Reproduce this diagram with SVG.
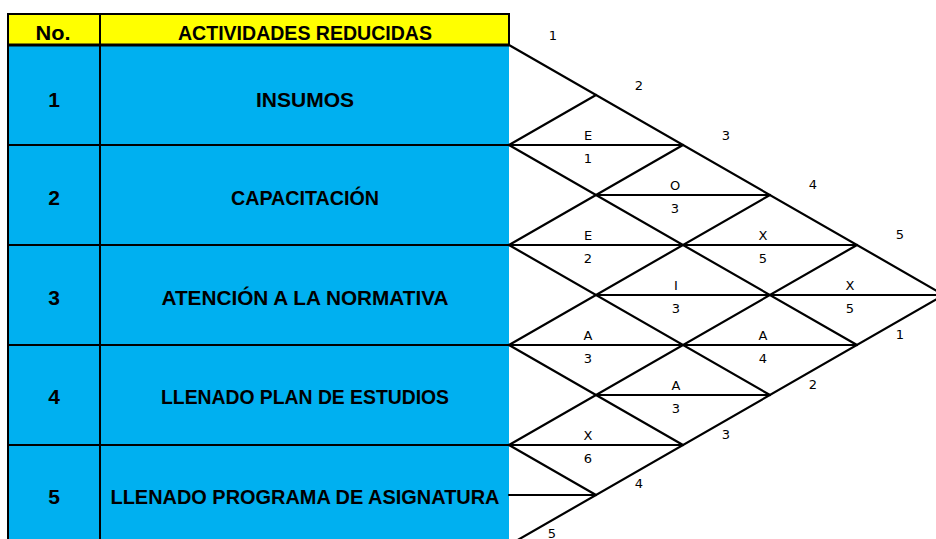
<svg xmlns="http://www.w3.org/2000/svg" width="936" height="539" viewBox="0 0 936 539">
<style>
.hd{fill:#FFFF00;stroke:#000;stroke-width:2}
.row{fill:#00B0F0}
.b{stroke:#000;stroke-width:2;fill:none}
.t{font-family:"Liberation Sans",Arial,sans-serif;font-weight:bold;font-size:21px;fill:#000;text-anchor:middle}
.s{font-family:"DejaVu Sans",Verdana,sans-serif;font-size:13px;fill:#000;text-anchor:middle}
.ln{stroke:#000;stroke-width:2.2;fill:none;stroke-linecap:round}
</style>
<rect width="936" height="539" fill="#fff"/>
<g id="header">
<rect class="hd" x="8" y="14" width="501" height="31"/>
<line class="b" x1="100" y1="14" x2="100" y2="45"/>
<text class="t" x="53" y="40" textLength="35" lengthAdjust="spacingAndGlyphs">No.</text>
<text class="t" x="305" y="40" textLength="254" lengthAdjust="spacingAndGlyphs">ACTIVIDADES REDUCIDAS</text>
</g>
<g id="row1">
<rect class="row" x="8" y="45" width="501" height="100"/>
<text class="t" x="54" y="107">1</text>
<text class="t" x="305" y="107" textLength="98" lengthAdjust="spacingAndGlyphs">INSUMOS</text>
</g>
<g id="row2">
<rect class="row" x="8" y="145" width="501" height="100"/>
<text class="t" x="54" y="205">2</text>
<text class="t" x="305" y="205" textLength="148" lengthAdjust="spacingAndGlyphs">CAPACITACIÓN</text>
</g>
<g id="row3">
<rect class="row" x="8" y="245" width="501" height="100"/>
<text class="t" x="54" y="305">3</text>
<text class="t" x="305" y="305" textLength="287" lengthAdjust="spacingAndGlyphs">ATENCIÓN A LA NORMATIVA</text>
</g>
<g id="row4">
<rect class="row" x="8" y="345" width="501" height="100"/>
<text class="t" x="54" y="404">4</text>
<text class="t" x="305" y="404" textLength="288" lengthAdjust="spacingAndGlyphs">LLENADO PLAN DE ESTUDIOS</text>
</g>
<g id="row5">
<rect class="row" x="8" y="445" width="501" height="94"/>
<text class="t" x="54" y="504">5</text>
<text class="t" x="305" y="504" textLength="389" lengthAdjust="spacingAndGlyphs">LLENADO PROGRAMA DE ASIGNATURA</text>
</g>
<g id="table-lines">
<line class="b" x1="8" y1="14" x2="8" y2="539"/>
<line class="b" x1="100" y1="45" x2="100" y2="539"/>
<line x1="8" y1="45" x2="509" y2="45" stroke="#000" stroke-width="3"/>
<line class="b" x1="8" y1="145" x2="509" y2="145"/>
<line class="b" x1="8" y1="245" x2="509" y2="245"/>
<line class="b" x1="8" y1="345" x2="509" y2="345"/>
<line class="b" x1="8" y1="445" x2="509" y2="445"/>
</g>
<g id="connectors">
<line class="ln" x1="509" y1="145" x2="683" y2="145"/>
<line class="ln" x1="596" y1="195" x2="770" y2="195"/>
<line class="ln" x1="509" y1="245" x2="857" y2="245"/>
<line class="ln" x1="596" y1="295" x2="944" y2="295"/>
<line class="ln" x1="509" y1="345" x2="857" y2="345"/>
<line class="ln" x1="596" y1="395" x2="770" y2="395"/>
<line class="ln" x1="509" y1="445" x2="683" y2="445"/>
<line class="ln" x1="509" y1="495" x2="596" y2="495"/>
<line class="ln" x1="509" y1="45" x2="944" y2="295"/>
<line class="ln" x1="509" y1="145" x2="857" y2="345"/>
<line class="ln" x1="509" y1="245" x2="770" y2="395"/>
<line class="ln" x1="509" y1="345" x2="683" y2="445"/>
<line class="ln" x1="509" y1="445" x2="596" y2="495"/>
<line class="ln" x1="509" y1="545" x2="944" y2="295"/>
<line class="ln" x1="509" y1="445" x2="857" y2="245"/>
<line class="ln" x1="509" y1="345" x2="770" y2="195"/>
<line class="ln" x1="509" y1="245" x2="683" y2="145"/>
<line class="ln" x1="509" y1="145" x2="596" y2="95"/>
</g>
<g id="labels">
<text class="s" x="553" y="40">1</text>
<text class="s" x="639" y="90">2</text>
<text class="s" x="726" y="140">3</text>
<text class="s" x="813" y="189">4</text>
<text class="s" x="900" y="239">5</text>
<text class="s" x="900" y="339">1</text>
<text class="s" x="813" y="389">2</text>
<text class="s" x="726" y="439">3</text>
<text class="s" x="639" y="488">4</text>
<text class="s" x="552" y="538">5</text>
<text class="s" x="588" y="140">E</text><text class="s" x="588" y="163">1</text>
<text class="s" x="675" y="190">O</text><text class="s" x="675" y="213">3</text>
<text class="s" x="588" y="240">E</text><text class="s" x="588" y="263">2</text>
<text class="s" x="763" y="240">X</text><text class="s" x="763" y="263">5</text>
<text class="s" x="676" y="290">I</text><text class="s" x="676" y="313">3</text>
<text class="s" x="850" y="290">X</text><text class="s" x="850" y="313">5</text>
<text class="s" x="588" y="340">A</text><text class="s" x="588" y="363">3</text>
<text class="s" x="763" y="340">A</text><text class="s" x="763" y="363">4</text>
<text class="s" x="676" y="390">A</text><text class="s" x="676" y="413">3</text>
<text class="s" x="588" y="440">X</text><text class="s" x="588" y="463">6</text>
</g>
</svg>
